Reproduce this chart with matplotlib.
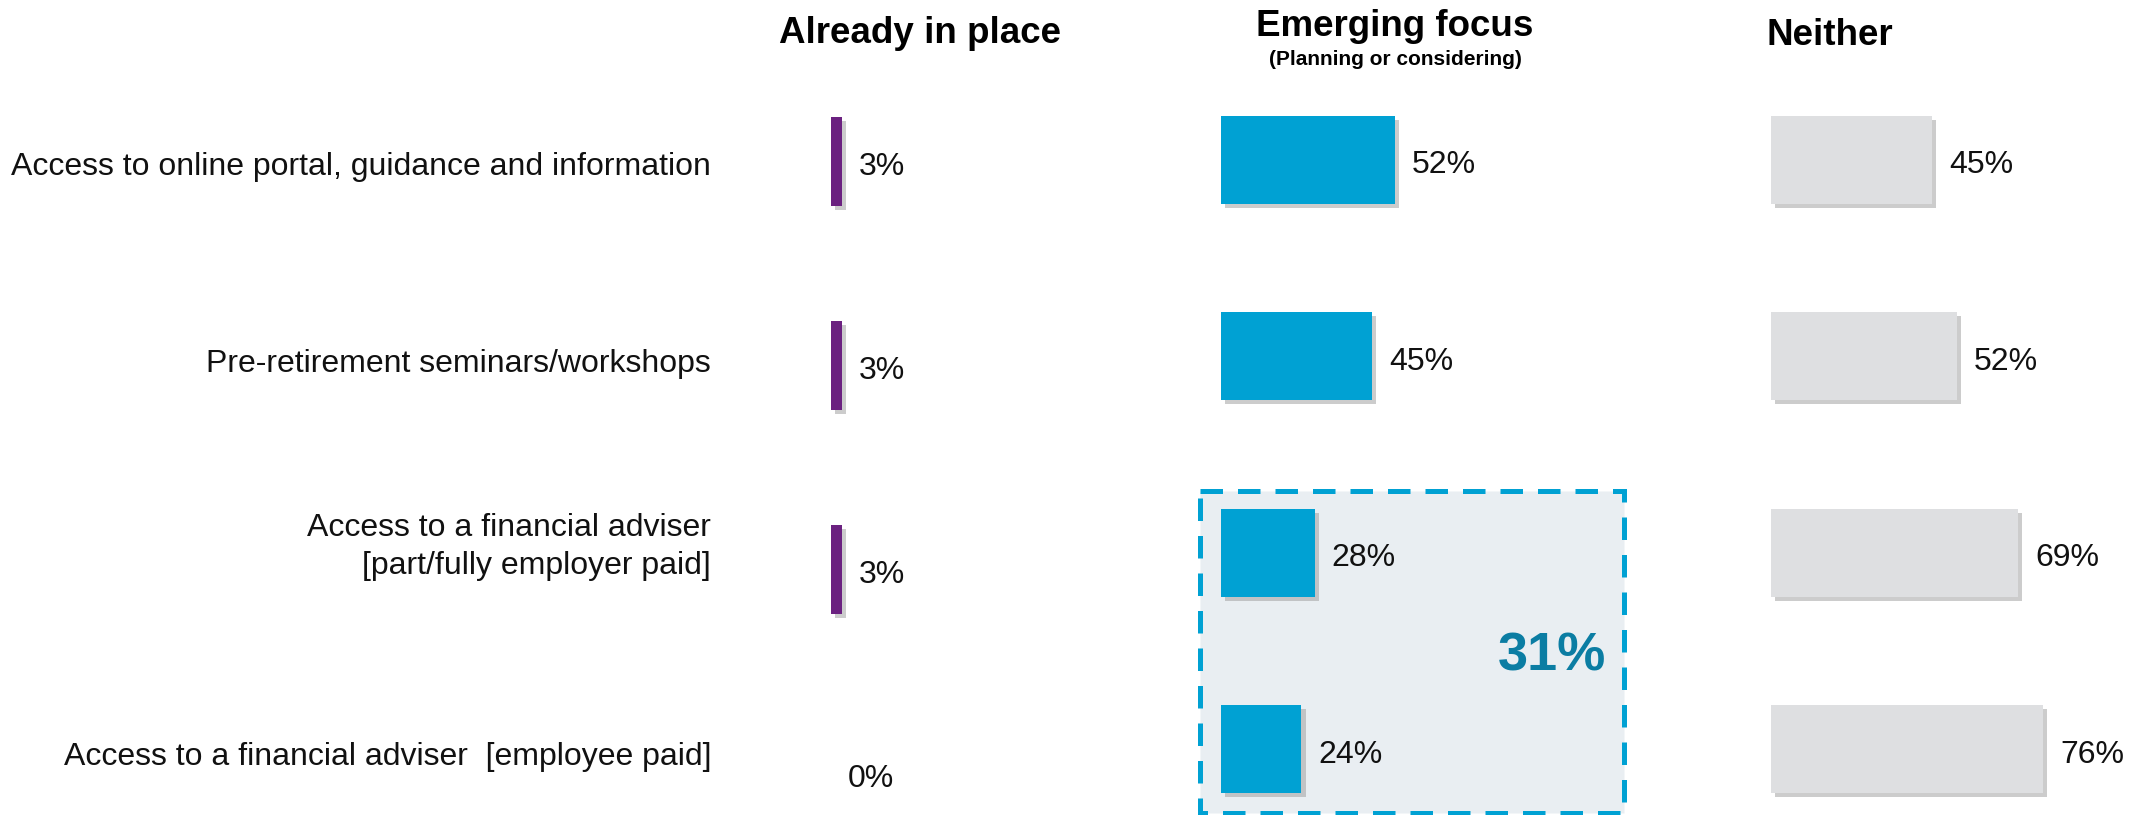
import matplotlib
matplotlib.use("Agg")
import matplotlib.pyplot as plt
import matplotlib.patheffects as pe
from matplotlib.patches import Rectangle
from matplotlib import transforms

plt.rcParams['font.family'] = ['Liberation Sans', 'DejaVu Sans']

categories = [
    'Access to online portal, guidance and information',
    'Pre-retirement seminars/workshops',
    'Access to a financial adviser\n[part/fully employer paid]',
    'Access to a financial adviser  [employee paid]',
]
already_in_place = [3, 3, 3, 0]
emerging_focus = [52, 45, 28, 24]
neither = [45, 52, 69, 76]
adviser_total = 31

W, H = 2149, 815
fig = plt.figure(figsize=(W / 100, H / 100), dpi=100)

shadow = [pe.SimplePatchShadow(offset=(3, -3), shadow_rgbFace='#9a9a9a', alpha=0.5), pe.Normal()]


def panel(left_px, px_per_pct, row0_px, row_step_px):
    ax = fig.add_axes([0, 0, 1, 1])
    ax.set_facecolor('none')
    ax.set_xlim(-left_px / px_per_pct, (W - left_px) / px_per_pct)
    ax.set_ylim((H - row0_px) / row_step_px, -row0_px / row_step_px)
    ax.axis('off')
    return ax


def draw(ax, values, color, height, gap, px_per_pct):
    rows = range(len(values))
    ax.barh(rows, values, height=height, color=color, path_effects=shadow, zorder=3)
    for i, v in zip(rows, values):
        ax.text(v + gap / px_per_pct, i + 0.03, f'{v}%', va='center', ha='left',
                fontsize=23, color='#111111', zorder=4)


ax_p = panel(831, 3.67, 161, 204)
ax_b = panel(1221, 3.35, 159.5, 196.5)
ax_g = panel(1771, 3.58, 159.5, 196.5)

# highlight box around the adviser rows
box = Rectangle((-6.3, 1.687), 126.6, 1.64, facecolor='#E9EEF2', edgecolor='#00A1D3',
                linewidth=3.6, linestyle=(0, (4.5, 3)), zorder=1, clip_on=False)
ax_b.add_patch(box)
ax_b.text(115, 2.53, f'{adviser_total}%', ha='right', va='center', fontsize=39,
          fontweight='bold', color='#0B7DA3', zorder=4)

draw(ax_p, already_in_place, '#6B2180', 89 / 204, 17, 3.67)
draw(ax_b, emerging_focus, '#00A1D3', 88 / 196.5, 17, 3.35)
draw(ax_g, neither, '#DEDFE1', 88 / 196.5, 17, 3.58)

# row labels
tr = transforms.blended_transform_factory(fig.transFigure, ax_b.transData)
label_shift = [0.04, 0.04, -0.03, 0.04]
for i, lab in enumerate(categories):
    fig.text(711 / W, i + label_shift[i], lab, transform=tr, ha='right', va='center',
             fontsize=23, color='#111111', linespacing=1.35)

# column headers
fig.text(920 / W, 1 - 43 / H, 'Already in place', ha='center', va='baseline',
         fontsize=26.5, fontweight='bold')
fig.text(1395 / W, 1 - 36 / H, 'Emerging focus', ha='center', va='baseline',
         fontsize=26.5, fontweight='bold')
fig.text(1395 / W, 1 - 65 / H, '(Planning or considering)', ha='center', va='baseline',
         fontsize=15, fontweight='bold')
fig.text(1830 / W, 1 - 45 / H, 'Neither', ha='center', va='baseline',
         fontsize=26.5, fontweight='bold')

fig.savefig('out.png', dpi=100, facecolor='white')
